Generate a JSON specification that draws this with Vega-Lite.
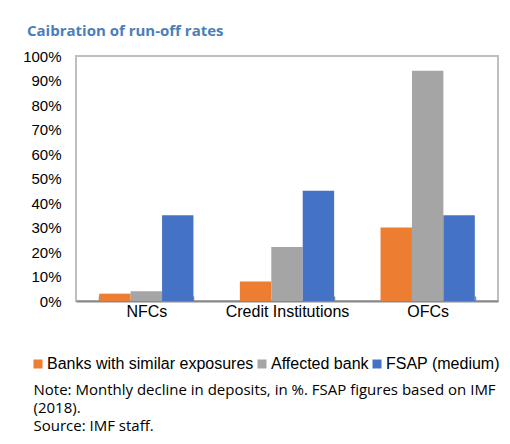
{
  "$schema": "https://vega.github.io/schema/vega-lite/v6.json",
  "width": 422,
  "height": 245,
  "autosize": {"type": "none"},
  "padding": {"left": 76, "top": 56, "right": 12, "bottom": 143},
  "background": "white",
  "title": {
    "text": "Caibration of run-off rates",
    "anchor": "start",
    "frame": "group",
    "dx": -49,
    "offset": 10,
    "font": "Open Sans",
    "fontSize": 15,
    "fontWeight": "bold",
    "color": "#4A7EBB"
  },
  "data": {
    "values": [
      {"category": "NFCs", "series": "Banks with similar exposures", "value": 0.03},
      {"category": "NFCs", "series": "Affected bank", "value": 0.04},
      {"category": "NFCs", "series": "FSAP (medium)", "value": 0.35},
      {"category": "Credit Institutions", "series": "Banks with similar exposures", "value": 0.08},
      {"category": "Credit Institutions", "series": "Affected bank", "value": 0.22},
      {"category": "Credit Institutions", "series": "FSAP (medium)", "value": 0.45},
      {"category": "OFCs", "series": "Banks with similar exposures", "value": 0.30},
      {"category": "OFCs", "series": "Affected bank", "value": 0.94},
      {"category": "OFCs", "series": "FSAP (medium)", "value": 0.35}
    ]
  },
  "mark": {"type": "bar"},
  "encoding": {
    "x": {
      "field": "category",
      "type": "nominal",
      "sort": ["NFCs", "Credit Institutions", "OFCs"],
      "scale": {"paddingInner": 0.33, "paddingOuter": 0.165},
      "axis": {
        "labelAngle": 0,
        "labelFont": "Liberation Sans",
        "labelFontSize": 16,
        "labelColor": "#000000",
        "labelPadding": 7,
        "tickBand": "extent",
        "tickSize": -5,
        "tickColor": "#888888",
        "tickWidth": 1.5,
        "domainColor": "#888888",
        "domainWidth": 2,
        "title": ["Note: Monthly decline in deposits, in %. FSAP figures based on IMF", "(2018).", "Source: IMF staff."],
        "titleFont": "Open Sans",
        "titleFontSize": 15,
        "titleFontWeight": "normal",
        "titleColor": "#000000",
        "titleAnchor": "start",
        "titleAlign": "left",
        "titleBaseline": "middle",
        "titleLineHeight": 18,
        "titleX": -43,
        "titleY": 88
      }
    },
    "xOffset": {
      "field": "series",
      "type": "nominal",
      "sort": ["Banks with similar exposures", "Affected bank", "FSAP (medium)"]
    },
    "y": {
      "field": "value",
      "type": "quantitative",
      "scale": {"domain": [0, 1]},
      "axis": {
        "values": [0, 0.1, 0.2, 0.3, 0.4, 0.5, 0.6, 0.7, 0.8, 0.9, 1],
        "format": ".0%",
        "grid": false,
        "ticks": false,
        "domain": false,
        "labelFont": "Liberation Sans",
        "labelFontSize": 15,
        "labelColor": "#000000",
        "labelPadding": 15,
        "title": null
      }
    },
    "color": {
      "field": "series",
      "type": "nominal",
      "sort": ["Banks with similar exposures", "Affected bank", "FSAP (medium)"],
      "scale": {
        "domain": ["Banks with similar exposures", "Affected bank", "FSAP (medium)"],
        "range": ["#ED7D31", "#A5A5A5", "#4472C4"]
      },
      "legend": {
        "orient": "none",
        "legendX": -46,
        "legendY": 300,
        "padding": 0,
        "direction": "horizontal",
        "title": null,
        "symbolType": "square",
        "symbolSize": 81,
        "symbolStrokeWidth": 0,
        "labelFont": "Liberation Sans",
        "labelFontSize": 16,
        "labelColor": "#000000",
        "labelOffset": 1,
        "columnPadding": -12,
        "labelLimit": 300
      }
    }
  },
  "config": {
    "view": {"stroke": "#BFBFBF", "strokeWidth": 2}
  }
}
